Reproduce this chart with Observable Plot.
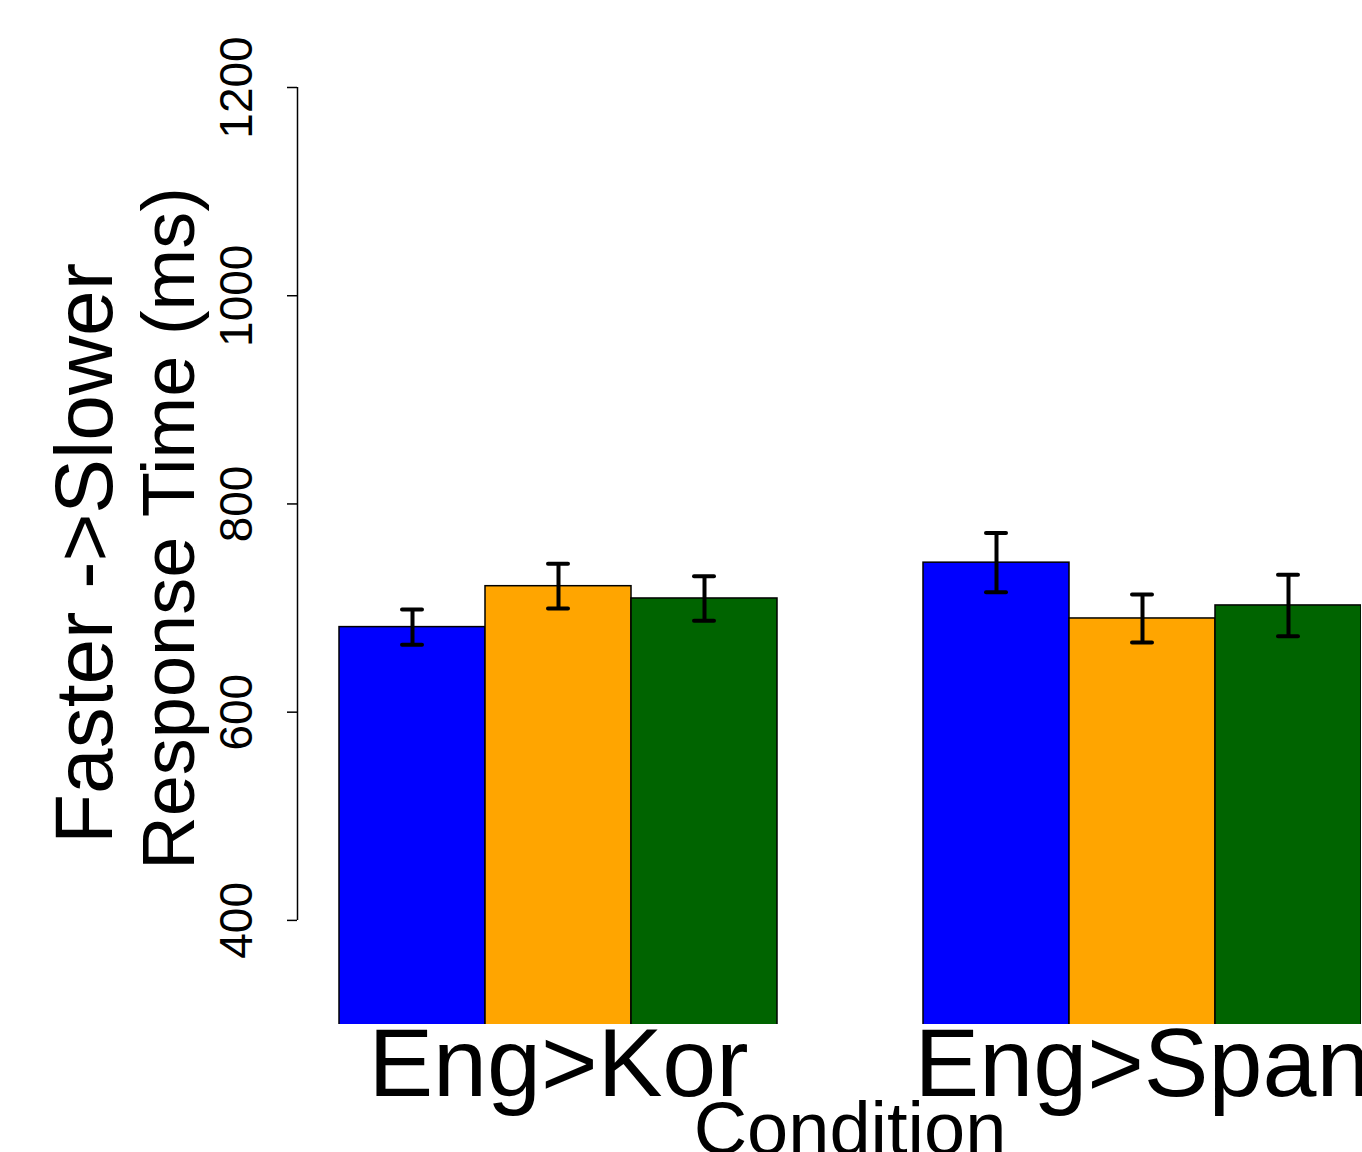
<!DOCTYPE html>
<html>
<head>
<meta charset="utf-8">
<script src="https://cdn.jsdelivr.net/npm/d3@7"></script>
<script src="https://cdn.jsdelivr.net/npm/@observablehq/plot@0.6"></script>
<style>
  html, body { margin: 0; padding: 0; background: white; overflow: hidden; }
</style>
</head>
<body>
<div id="chart"></div>
<script>
// ---- data ----
const conditions = ["Eng>Kor", "Eng>Span"];
const groups = ["Group 1", "Group 2", "Group 3"];
const groupColors = ["#0000FF", "#FFA500", "#006400"];
const meansKor = [681.7, 721.0, 709.2];
const meansSpan = [743.6, 690.0, 702.5];
const errKor = [17.0, 21.5, 21.4];
const errSpan = [28.4, 23.0, 29.5];
const yTicks = [400, 600, 800, 1000, 1200];
const yLabelLine1 = "Faster ->Slower";
const yLabelLine2 = "Response Time (ms)";
const xLabel = "Condition";

// ---- build table ----
const meansByCond = [meansKor, meansSpan];
const errByCond = [errKor, errSpan];
const rows = conditions.flatMap((c, i) => groups.map((g, j) => ({
  condition: c, group: g, slot: c + "|" + g,
  mean: meansByCond[i][j],
  lo: meansByCond[i][j] - errByCond[i][j],
  hi: meansByCond[i][j] + errByCond[i][j]
})));
// band slots: 3 bars per condition, one empty slot between conditions
const slots = conditions.flatMap((c, i) => [
  ...groups.map(g => c + "|" + g),
  ...(i < conditions.length - 1 ? ["gap" + i] : [])
]);
const midGroup = groups[Math.floor(groups.length / 2)];

const W = 1362, H = 1152, mL = 338, mR = 1, mT = 87, mB = 128;
const axisShift = -41;
const font = "'Liberation Sans', Arial, Helvetica, sans-serif";

const chart = Plot.plot({
  width: W, height: H,
  marginLeft: mL, marginRight: mR, marginTop: mT, marginBottom: mB,
  style: { fontFamily: font, background: "white", color: "black" },
  x: { domain: slots, padding: 0, axis: null },
  y: { domain: [300, 1200] },
  color: { domain: groups, range: groupColors },
  marks: [
    Plot.barY(rows, { x: "slot", y: "mean", fill: "group", stroke: "black", strokeWidth: 1.5, clip: true }),
    Plot.ruleX(rows, { x: "slot", y1: "lo", y2: "hi", stroke: "black", strokeWidth: 4 }),
    Plot.tickY(rows, { x: "slot", y: "hi", stroke: "black", strokeWidth: 4, strokeLinecap: "round", insetLeft: 63, insetRight: 63 }),
    Plot.tickY(rows, { x: "slot", y: "lo", stroke: "black", strokeWidth: 4, strokeLinecap: "round", insetLeft: 63, insetRight: 63 }),
    // y axis
    Plot.axisY({ ticks: yTicks, tickSize: 10, tickPadding: 36, tickRotate: -90, textAnchor: "middle", lineAnchor: "bottom",
                 fontSize: 46, dx: axisShift, strokeWidth: 1.5, label: null, tickFormat: d => String(d) }),
    Plot.ruleX([{ lo: yTicks[0], hi: yTicks[yTicks.length - 1] }], {
      x: null, y1: "lo", y2: "hi", stroke: "black", strokeWidth: 1.5,
      dx: (mL + axisShift) - (mL + W - mR) / 2
    }),
    // condition labels
    Plot.text(conditions, { x: d => d + "|" + midGroup, text: d => d, frameAnchor: "bottom", dy: 71,
                            lineAnchor: "bottom", textAnchor: "middle", fontSize: 97, fill: "black" }),
    // x label
    Plot.text([xLabel], { frameAnchor: "bottom", dy: 129, lineAnchor: "bottom", textAnchor: "middle", fontSize: 74, fill: "black" }),
    // y labels
    Plot.text([yLabelLine1], { frameAnchor: "left", rotate: -90, dx: 111 - mL, dy: -2.5,
                               lineAnchor: "bottom", textAnchor: "middle", fontSize: 82, fill: "black" }),
    Plot.text([yLabelLine2], { frameAnchor: "left", rotate: -90, dx: 193 - mL, dy: -27.5,
                               lineAnchor: "bottom", textAnchor: "middle", fontSize: 74, fill: "black" })
  ]
});
document.getElementById("chart").appendChild(chart);
</script>
</body>
</html>
